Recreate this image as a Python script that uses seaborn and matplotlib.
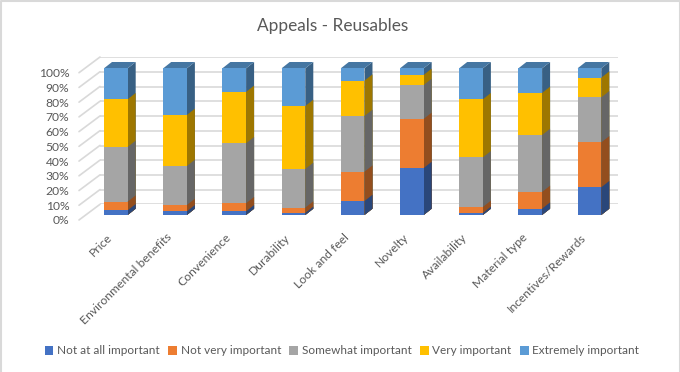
import numpy as np
import pandas as pd
import seaborn as sns
import matplotlib.pyplot as plt
from matplotlib.colors import to_rgb
from matplotlib.lines import Line2D
from matplotlib.patches import Patch, Polygon
from matplotlib.transforms import ScaledTranslation

categories = ['Price', 'Environmental benefits', 'Convenience', 'Durability',
              'Look and feel', 'Novelty', 'Availability', 'Material type',
              'Incentives/Rewards']
levels = ['Not at all important', 'Not very important', 'Somewhat important',
          'Very important', 'Extremely important']
not_at_all = [3.2, 2.5, 2.5, 1.4, 9.5, 32.0, 1.4, 4.3, 18.9]
not_very = [5.9, 4.3, 5.5, 3.6, 20.0, 33.5, 4.1, 11.4, 30.6]
somewhat = [37.3, 26.6, 40.9, 26.4, 38.0, 23.1, 33.8, 38.8, 30.7]
very = [32.5, 34.8, 35.0, 42.9, 24.1, 6.9, 39.6, 28.7, 13.4]
extremely = [21.1, 31.8, 16.1, 25.7, 8.4, 4.5, 21.1, 16.8, 6.4]
colors = ['#4472C4', '#ED7D31', '#A5A5A5', '#FFC000', '#5B9BD5']
yticks = list(range(0, 101, 10))

W, H = 680, 372
GREY = '#595959'
GRID = '#D9D9D9'


def px_axes(left, right, top, bottom):
    return fig.add_axes([left / W, 1 - bottom / H, (right - left) / W, (bottom - top) / H])


def shade(color, k):
    return tuple(c * k for c in to_rgb(color))


sns.set_theme(style='white')
plt.rcParams['font.family'] = ['Lato', 'DejaVu Sans']

fig = plt.figure(figsize=(W / 100, H / 100), dpi=100)

# thin frame of the pasted chart, open at the bottom
fig.add_artist(Line2D([0.5 / W, 0.5 / W, 1 - 0.5 / W, 1 - 0.5 / W], [0, 1 - 0.5 / H, 1 - 0.5 / H, 0],
                      color=GRID, lw=1.5))

# back wall of the box, only gridlines
wall = px_axes(100, 618, 57.3, 204.3)
wall.set(xlim=(0, 1), ylim=(0, 100), xticks=[], yticks=yticks, yticklabels=[])
wall.grid(axis='y', color=GRID, lw=1.2)
wall.tick_params(left=False)
sns.despine(ax=wall, left=True, bottom=True)

# front plane, holds the percent labels and the diagonals
front = px_axes(79, 618, 72.7, 220)
front.set(xlim=(0, 1), ylim=(0, 100), yticks=yticks, xticks=[])
front.set_yticklabels(['{0}%'.format(t) for t in yticks], color=GREY, fontsize=8.7)
front.tick_params(left=False, pad=1)
front.patch.set_alpha(0)
sns.despine(ax=front, left=True, bottom=True)
for t in yticks:
    y = 220 - 1.473 * t
    fig.add_artist(Line2D([79 / W, 100 / W], [1 - y / H, 1 - (y - 15.7) / H],
                          color=GRID, lw=1.2))

# the bars
ax = px_axes(86.25, 619.05, 68.3, 215)
ax.patch.set_alpha(0)
stack = np.cumsum([not_at_all, not_very, somewhat, very, extremely], axis=0)

for k in range(len(levels) - 1, -1, -1):
    df = pd.DataFrame({'category': categories, 'share': stack[k]})
    n = len(ax.patches)
    sns.barplot(data=df, x='category', y='share', color=colors[k], saturation=1,
                width=0.4, order=categories, ax=ax, linewidth=0,
                zorder=3 + 2 * (4 - k) + 1)
    px_x = 59.2
    px_y = 1.467
    dx, dy = 8 / px_x, 6.3 / px_y
    for bar in ax.patches[n:n + len(categories)]:
        x1 = bar.get_x() + bar.get_width()
        top = bar.get_height()
        ax.add_patch(Polygon([(x1, 0), (x1 + dx, dy), (x1 + dx, top + dy), (x1, top)],
                             fc=shade(colors[k], 0.62), ec='none', clip_on=False,
                             zorder=3 + 2 * (4 - k)))
        if k == len(levels) - 1:
            x0 = bar.get_x()
            ax.add_patch(Polygon([(x0, top), (x1, top), (x1 + dx, top + dy), (x0 + dx, top + dy)],
                                 fc=shade(colors[k], 0.76), ec='none', clip_on=False,
                                 zorder=3))

ax.set(xlim=(-0.5, 8.5), ylim=(0, 100), xlabel='', ylabel='', yticks=[])
ax.set_xticks(range(len(categories)))
ax.set_xticklabels(categories, rotation=45, ha='right', rotation_mode='anchor',
                   color=GREY, fontsize=8.7)
ax.tick_params(bottom=False, pad=6)
shift = ScaledTranslation(-0.09, 0, fig.dpi_scale_trans)
for label in ax.get_xticklabels():
    label.set_transform(label.get_transform() + shift)
sns.despine(ax=ax, left=True, bottom=True)

fig.text(333 / W, 1 - 26 / H, 'Appeals - Reusables', ha='center', va='center',
         color=GREY, fontsize=12.4)

handles = [Patch(fc=c, ec='none') for c in colors]
fig.legend(handles, levels, loc='center', bbox_to_anchor=(342 / W, 1 - 351 / H), ncol=5,
           frameon=False, fontsize=8.5, labelcolor=GREY, handlelength=0.75,
           handleheight=0.75, handletextpad=0.3, columnspacing=0.72)

fig.savefig('out.png', dpi=100)
